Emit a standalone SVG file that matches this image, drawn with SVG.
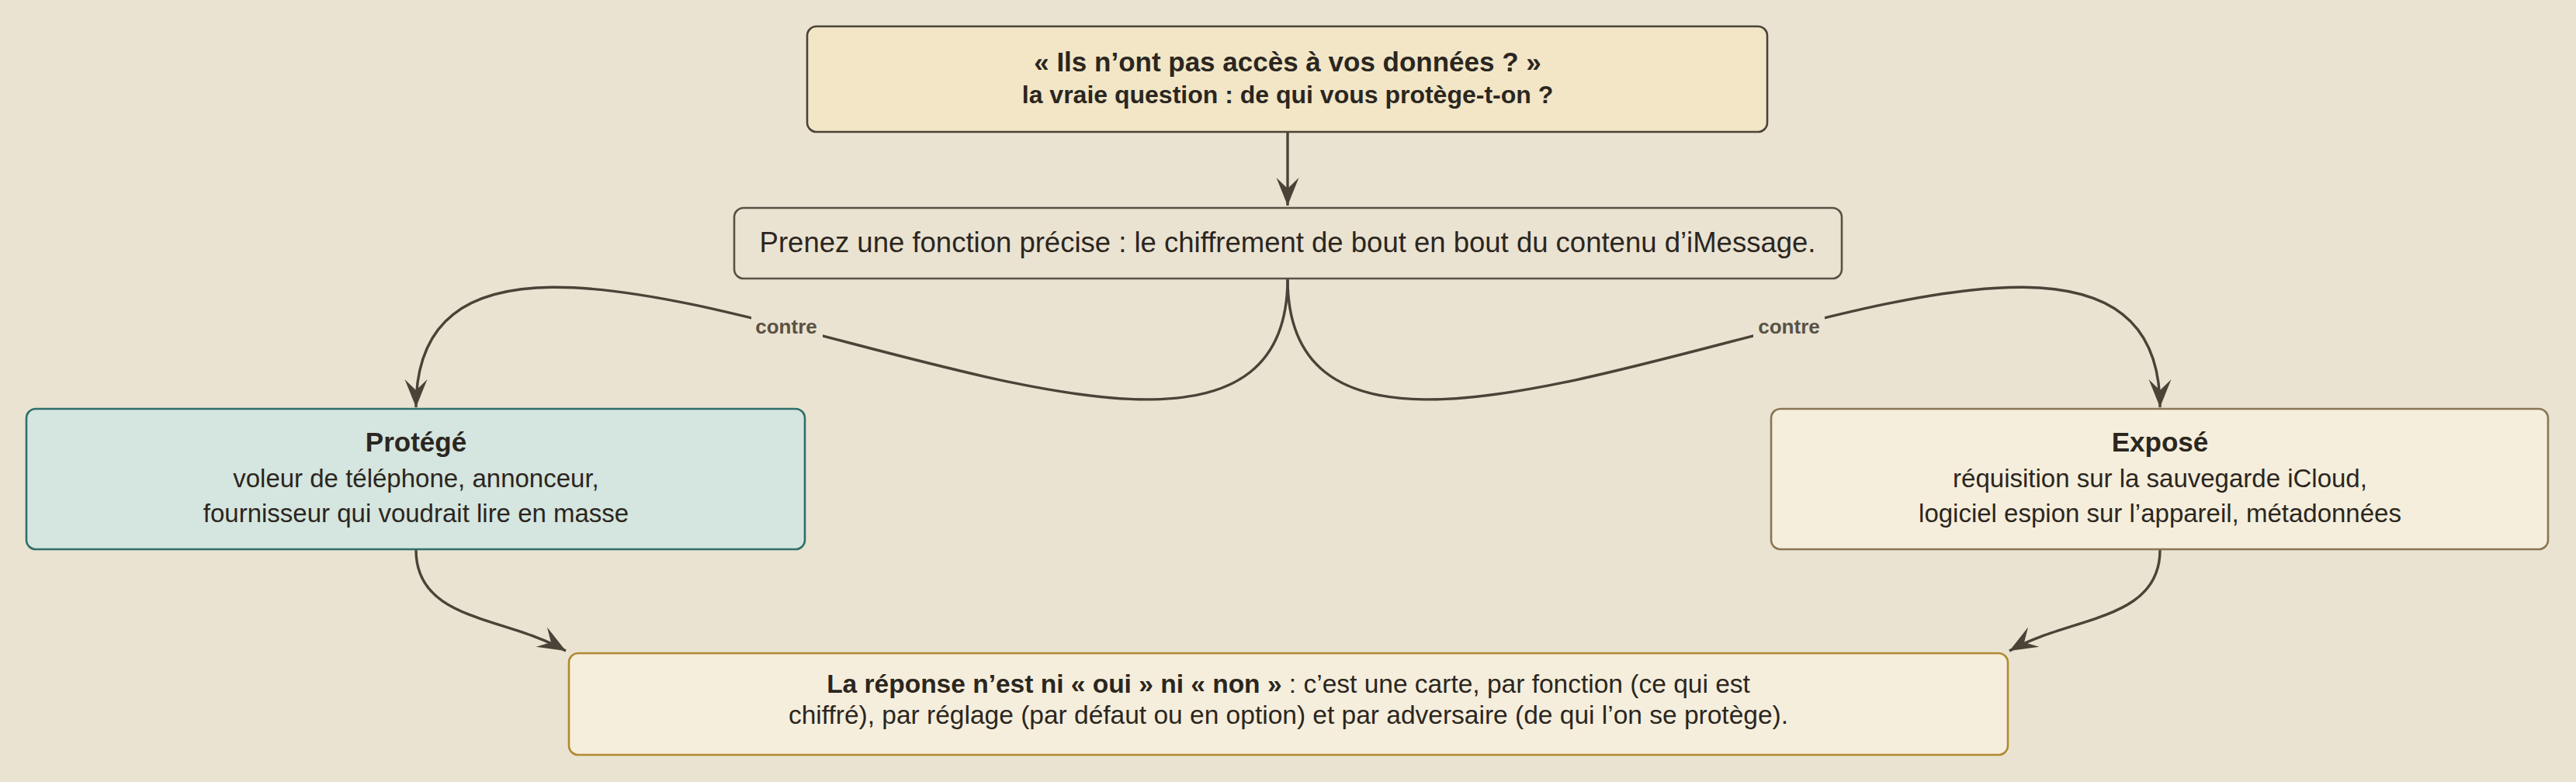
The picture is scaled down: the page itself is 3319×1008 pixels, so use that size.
<svg xmlns="http://www.w3.org/2000/svg" width="3319" height="1008" viewBox="0 0 3319 1008">
<style>
.t{font-family:"Liberation Sans",Arial,sans-serif;fill:#2b2620;text-anchor:middle}
.b{font-weight:bold}
.box{stroke-width:2.6}
.conn{fill:none;stroke:#4a4337;stroke-width:3.4}
.lbl{font-family:"Liberation Sans",Arial,sans-serif;font-weight:bold;font-size:26px;fill:#5a5244;text-anchor:middle}
</style>
<defs>
<marker id="ah" markerUnits="userSpaceOnUse" markerWidth="44" markerHeight="36" viewBox="-40 -18 42 36" refX="0" refY="0" orient="auto">
<path d="M0,0 L-36,-14.5 L-22,0 L-36,14.5 Z" fill="#4a4337"/>
</marker>
</defs>
<rect x="0" y="0" width="3319" height="1008" fill="#eae3d2"/>
<g id="connectors">
<path class="conn" d="M1659,170 L1659,265" marker-end="url(#ah)"/>
<path class="conn" d="M1659,359 C1659,820 536,66 536,525" marker-end="url(#ah)"/>
<path class="conn" d="M1659,359 C1659,820 2783,66 2783,525" marker-end="url(#ah)"/>
<path class="conn" d="M536,709 C536,801 650.6,794.1 729,839" marker-end="url(#ah)"/>
<path class="conn" d="M2783,709 C2783,801 2667.4,794.1 2589,839" marker-end="url(#ah)"/>
<rect x="968" y="404" width="92" height="36" fill="#eae3d2"/>
<text class="lbl" x="1013" y="430">contre</text>
<rect x="2259" y="404" width="92" height="36" fill="#eae3d2"/>
<text class="lbl" x="2305" y="430">contre</text>
</g>
<g id="question">
<rect class="box" x="1040" y="34" width="1237" height="136" rx="12" fill="#f2e6c7" stroke="#4a4337"/>
<text class="t b" x="1659" y="92" font-size="35">« Ils n’ont pas accès à vos données ? »</text>
<text class="t b" x="1659" y="133" font-size="32">la vraie question : de qui vous protège-t-on ?</text>
</g>
<g id="fonction">
<rect class="box" x="946" y="268" width="1427" height="91" rx="12" fill="#eae3d2" stroke="#5a5246"/>
<text class="t" x="1659" y="325" font-size="36.5">Prenez une fonction précise : le chiffrement de bout en bout du contenu d’iMessage.</text>
</g>
<g id="protege">
<rect class="box" x="34" y="527" width="1003" height="181" rx="12" fill="#d5e5df" stroke="#2f6f6a"/>
<text class="t b" x="536" y="582" font-size="35">Protégé</text>
<text class="t" x="536" y="628" font-size="33">voleur de téléphone, annonceur,</text>
<text class="t" x="536" y="673" font-size="33">fournisseur qui voudrait lire en masse</text>
</g>
<g id="expose">
<rect class="box" x="2282" y="527" width="1001" height="181" rx="12" fill="#f5eedc" stroke="#8b7553"/>
<text class="t b" x="2783" y="582" font-size="35">Exposé</text>
<text class="t" x="2783" y="628" font-size="33">réquisition sur la sauvegarde iCloud,</text>
<text class="t" x="2783" y="673" font-size="33">logiciel espion sur l’appareil, métadonnées</text>
</g>
<g id="reponse">
<rect class="box" x="733" y="842" width="1854" height="131" rx="12" fill="#f5eedc" stroke="#b08a30"/>
<text class="t" x="1660" y="893" font-size="33.5"><tspan font-weight="bold">La réponse n’est ni « oui » ni « non »</tspan> : c’est une carte, par fonction (ce qui est</text>
<text class="t" x="1660" y="933" font-size="33.5">chiffré), par réglage (par défaut ou en option) et par adversaire (de qui l’on se protège).</text>
</g>
</svg>
